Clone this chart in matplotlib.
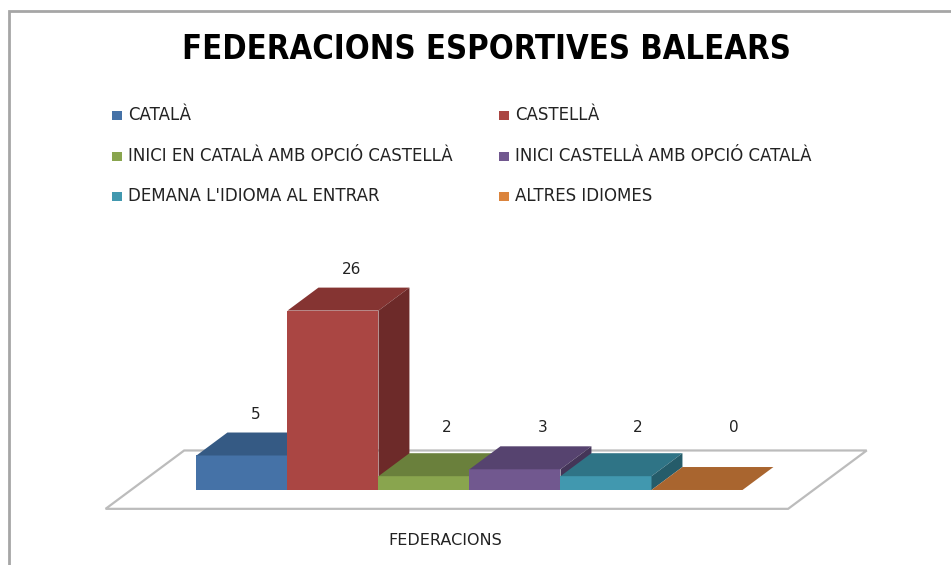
import matplotlib
matplotlib.use("Agg")
import matplotlib.pyplot as plt
from matplotlib.patches import Polygon, Rectangle

title = "FEDERACIONS ESPORTIVES BALEARS"
xlabel = "FEDERACIONS"
series = ["CATALÀ", "CASTELLÀ", "INICI EN CATALÀ AMB OPCIÓ CASTELLÀ",
          "INICI CASTELLÀ AMB OPCIÓ CATALÀ", "DEMANA L'IDIOMA AL ENTRAR",
          "ALTRES IDIOMES"]
values = [5, 26, 2, 3, 2, 0]
front_colors = ["#4572a7", "#aa4643", "#89a54e", "#71588f", "#4198af", "#db843d"]
top_colors = ["#355a84", "#853432", "#6a803c", "#56436f", "#2f7486", "#a9652f"]
side_colors = ["#294768", "#6d2a29", "#536530", "#443558", "#255c6a", "#864f25"]

# fake 3d depth, in data units
dx, dy = 0.34, 3.33

fig = plt.figure(figsize=(9.51, 5.65), dpi=100)
ax = fig.add_axes([0, 0, 1, 1])
ax.set_xlim(-2.659, 7.791)
ax.set_ylim(-10.87, 71.01)
ax.axis("off")

# floor plane
n = len(values)
f0, f1 = -0.82, 1.72
left, right = -1.22, n - 1 + 1.28
floor = [(left + f0 * dx, f0 * dy), (right + f0 * dx, f0 * dy),
         (right + f1 * dx, f1 * dy), (left + f1 * dx, f1 * dy)]
ax.add_patch(Polygon(floor, closed=True, facecolor="white",
                     edgecolor="#bcbcbc", lw=1.6, zorder=1))

xs = list(range(n))
for i, v in enumerate(values):
    x0, x1 = xs[i] - 0.5, xs[i] + 0.5
    if v > 0:
        ax.bar(xs[i], v, width=1.0, color=front_colors[i], zorder=2 + i)
    top = [(x0, v), (x1, v), (x1 + dx, v + dy), (x0 + dx, v + dy)]
    ax.add_patch(Polygon(top, closed=True, facecolor=top_colors[i],
                         edgecolor="none", zorder=2 + i))
    if v > 0:
        side = [(x1, 0), (x1 + dx, dy), (x1 + dx, v + dy), (x1, v)]
        ax.add_patch(Polygon(side, closed=True, facecolor=side_colors[i],
                             edgecolor="none", zorder=2 + i))
    # excel pushes the labels of short bars up and a bit to the right
    ax.text(xs[i] + dx / 2 + 0.05 * i - 0.02, max(v + 5.9, 9.0), str(v),
            ha="center", va="center", fontsize=11, color="#222222", zorder=20)

ax.text(2.23, -7.25, xlabel, ha="center", va="center", fontsize=11.5,
        color="#222222")

# title, squeezed to the reference width
t = fig.text(0.512, 0.912, title, ha="center", va="center", fontsize=27,
             fontweight="bold", fontstretch="condensed", family="DejaVu Sans")
fig.canvas.draw()
w = t.get_window_extent().width
t.set_fontsize(27 * 607 / w)

# legend, 2 columns x 3 rows
col_x = [117 / 951, 504 / 951]
row_y = [1 - 115 / 565, 1 - 156 / 565, 1 - 196 / 565]
for i, name in enumerate(series):
    cx = col_x[i % 2]
    cy = row_y[i // 2]
    fig.patches.append(Rectangle((cx - 5 / 951, cy - 4.5 / 565), 10 / 951, 9 / 565,
                                 transform=fig.transFigure,
                                 facecolor=front_colors[i], edgecolor="none"))
    fig.text(cx + 11 / 951, cy, name, ha="left", va="center", fontsize=12,
             color="#222222")

# chart frame
fig.patches.append(Rectangle((8.5 / 951, -0.1), 1.2, (565 - 11) / 565 + 0.1,
                             transform=fig.transFigure, fill=False,
                             edgecolor="#a6a6a6", lw=2))

fig.savefig("out.png", dpi=100, facecolor="white")
